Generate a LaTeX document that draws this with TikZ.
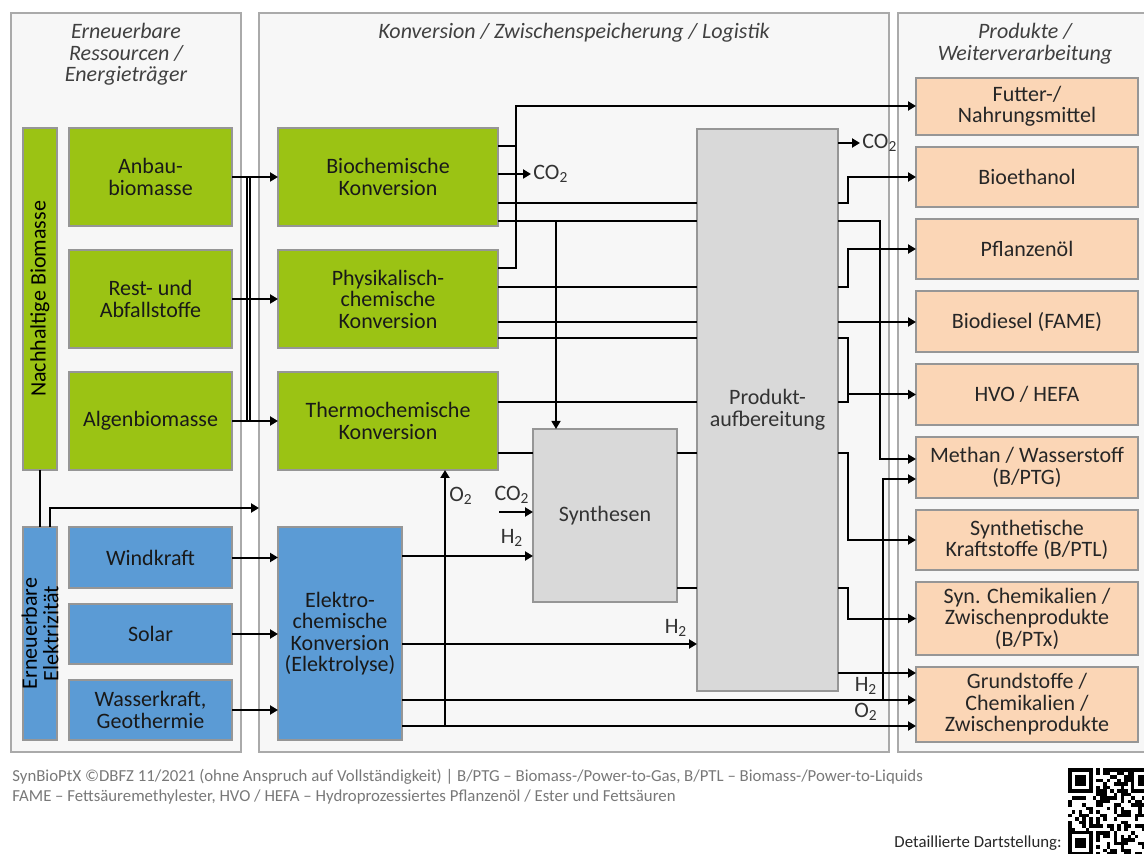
\documentclass[tikz,border=0pt]{standalone}
\usepackage{fontspec}
\setmainfont{Carlito}
\usetikzlibrary{
    arrows.meta,
    positioning
}
\definecolor{biogreen}{RGB}{155,195,20}
\definecolor{elblue}{RGB}{91,155,213}
\definecolor{prodpeach}{RGB}{251,214,182}
\definecolor{procgray}{RGB}{217,217,217}
\definecolor{panelfill}{RGB}{247,247,247}
\definecolor{paneldraw}{RGB}{170,170,170}
\definecolor{boxdraw}{RGB}{150,150,150}
\definecolor{notegray}{RGB}{120,120,120}

\begin{document}
\begin{tikzpicture}[
    x=0.5pt, y=-0.5pt,
    font=\fontsize{11}{10.75}\selectfont,
    panel/.style={rectangle, draw=paneldraw, fill=panelfill, line width=0.8pt, anchor=north west, inner sep=0pt, outer sep=0pt, minimum height=369.5pt},
    head/.style={font=\fontsize{11}{10.75}\selectfont\itshape, text=black!75, align=center, inner sep=0pt, anchor=north},
    box/.style={rectangle, draw=boxdraw, line width=0.7pt, align=center, inner sep=1pt, outer sep=0pt, text=black!90},
    biobox/.style={box, fill=biogreen, minimum width=81.5pt, minimum height=49pt},
    convbox/.style={box, fill=biogreen, minimum width=110pt, minimum height=49pt},
    elbox/.style={box, fill=elblue, minimum width=81.5pt, minimum height=30pt},
    barbox/.style={box, minimum width=17pt},
    procbox/.style={box, fill=procgray, text=black!80},
    prodbox/.style={box, fill=prodpeach, minimum width=111pt, text=black!85},
    gas/.style={inner sep=1pt, text=black!80},
    note/.style={inner sep=0pt, font=\fontsize{8.4}{10}\selectfont, text=notegray, anchor=west},
    arrow/.style={-{Triangle[length=4pt, width=4.5pt]}, line width=1pt},
    wire/.style={line width=1pt}
]
\useasboundingbox (0,0) rectangle (1144,854);

% Panels
\node[panel, minimum width=115pt] (pleft) at (11,13) {};
\node[panel, minimum width=315pt] (pmid) at (259,13) {};
\node[panel, minimum width=127pt] (pright) at (898,13) {};
\node[head, below=5pt of pleft.north] (hleft) {Erneuerbare\\Ressourcen /\\Energieträger};
\node[head, below=5pt of pmid.north] (hmid) {Konversion / Zwischenspeicherung / Logistik};
\node[head, below=5pt of pright.north] (hright) {Produkte /\\Weiterverarbeitung};

% Biomasse column
\node[barbox, fill=biogreen, minimum height=171pt, anchor=north west] (nb) at (23,128) {};
\node[rotate=90] (nbtext) at (nb) {Nachhaltige Biomasse};
\node[biobox, right=6pt of nb.north east, anchor=north west] (anbau) {Anbau-\\biomasse};
\node[biobox, below=12pt of anbau] (rest) {Rest- und\\Abfallstoffe};
\node[biobox, below=12pt of rest] (algen) {Algenbiomasse};

% Strom column
\node[barbox, fill=elblue, minimum height=106.5pt, anchor=north west] (elz) at (23,527) {};
\node[rotate=90, align=center] (elztext) at (elz) {Erneuerbare\\Elektrizität};
\node[elbox, minimum height=30.5pt, right=6pt of elz.north east, anchor=north west] (wind) {Windkraft};
\node[elbox, below=8pt of wind] (solar) {Solar};
\node[elbox, below=8pt of solar] (wasser) {Wasserkraft,\\Geothermie};

% Konversion
\node[convbox, right=23pt of anbau] (biochem) {Biochemische\\Konversion};
\node[convbox, below=12pt of biochem] (physchem) {Physikalisch-\\chemische\\Konversion};
\node[convbox, below=12pt of physchem] (thermo) {Thermochemische\\Konversion};
\node[box, fill=elblue, minimum width=62pt, minimum height=106.5pt, right=23pt of wind.north east, anchor=north west] (elektro) {Elektro-\\chemische\\Konversion\\(Elektrolyse)};
\node[procbox, minimum width=72pt, minimum height=86.5pt, anchor=north west] (synth) at (533,429) {Synthesen};
\node[procbox, minimum width=70.5pt, minimum height=281pt, anchor=north west] (aufb) at (697,129) {Produkt-\\aufbereitung};

% Produkte
\node[prodbox, minimum height=28.5pt, anchor=north west] (fut) at (916,78) {Futter-/\\Nahrungsmittel};
\node[prodbox, minimum height=30pt, below=6pt of fut] (ethanol) {Bioethanol};
\node[prodbox, minimum height=30pt, below=6pt of ethanol] (oel) {Pflanzenöl};
\node[prodbox, minimum height=30.5pt, below=6pt of oel] (diesel) {Biodiesel (FAME)};
\node[prodbox, minimum height=30.5pt, below=6pt of diesel] (hvo) {HVO / HEFA};
\node[prodbox, minimum height=30.5pt, below=6pt of hvo] (methan) {Methan / Wasserstoff\\(B/PTG)};
\node[prodbox, minimum height=30pt, below=6pt of methan] (synkr) {Synthetische\\Kraftstoffe (B/PTL)};
\node[prodbox, minimum height=36.5pt, below=6pt of synkr] (synchem) {Syn. Chemikalien /\\Zwischenprodukte\\(B/PTx)};
\node[prodbox, minimum height=37.5pt, below=6pt of synchem] (grund) {Grundstoffe /\\Chemikalien /\\Zwischenprodukte};

% Biomasse -> Konversion
\foreach \s/\c in {anbau/biochem, rest/physchem, algen/thermo}
    \draw[arrow] (\s) -- (\c);
\draw[wire] ([xshift=7.5pt]anbau.east) -- ([xshift=7.5pt]algen.east);
\draw[wire] ([xshift=9pt]anbau.east) -- ([xshift=9pt]algen.east);

% Strom
\draw[line width=0.6pt] (nb) -- (elz);
\draw[arrow] ([xshift=5pt]elz.north) |- (pmid.west |- 0,508);
\foreach \s in {wind, solar, wasser}
    \draw[arrow] (\s) -- (\s -| elektro.west);

% Biochemische / physikalisch-chemische Konversion
\coordinate (fj) at (516,106);
\draw[arrow] (biochem.east |- 0,146) -| (fj) -- (fut.west |- fj);
\draw[wire] (physchem.east |- 0,268) -| (fj);
\node[gas, anchor=west] (co2a) at (531,174) {CO\textsubscript{2}};
\draw[arrow] (biochem.east |- co2a) -- (co2a.west);
\foreach \y in {203,221}
    \draw[wire] (biochem.east |- 0,\y) -- (aufb.west |- 0,\y);
\foreach \y in {287,322,338}
    \draw[wire] (physchem.east |- 0,\y) -- (aufb.west |- 0,\y);
\draw[arrow, line width=0.7pt] (556,221) -- (synth.north -| 556,0);

% Thermochemische Konversion und Synthesen
\draw[wire] (thermo.east |- 0,402) -- (aufb.west |- 0,402);
\draw[wire] (thermo.east |- 0,453) -- (synth.west |- 0,453);
\foreach \y in {453,588}
    \draw[wire] (synth.east |- 0,\y) -- (aufb.west |- 0,\y);
\coordinate (co2in) at (499,512);
\node[gas] (co2b) at (512,495) {CO\textsubscript{2}};
\draw[arrow] (co2in) -- (synth.west |- co2in);

% Elektrolyse
\node[gas] (h2a) at (512,538) {H\textsubscript{2}};
\draw[arrow] (elektro.east |- 0,556) -- (synth.west |- 0,556);
\node[gas] (o2a) at (461,496) {O\textsubscript{2}};
\draw[arrow] (445,726) -- (thermo.south -| 445,0);
\node[gas] (h2b) at (676,628) {H\textsubscript{2}};
\draw[arrow] (elektro.east |- 0,644) -- (aufb.west |- 0,644);
\node[gas] (h2c) at (866,686) {H\textsubscript{2}};
\node[gas] (o2b) at (866,712) {O\textsubscript{2}};
\draw[arrow] (elektro.east |- 0,700) -- (grund.west |- 0,700);
\draw[arrow] (elektro.east |- 0,726) -- (grund.west |- 0,726);
\draw[arrow] (883,700) |- (methan.west |- 0,479);

% Produktaufbereitung -> Produkte
\node[gas, anchor=west] (co2c) at (860,143) {CO\textsubscript{2}};
\draw[arrow] (aufb.east |- co2c) -- (co2c.west);
\draw[arrow] (aufb.east |- 0,203) -- ++(10,0) |- (ethanol.west);
\draw[arrow] (aufb.east |- 0,221) -- ++(42,0) |- (methan.west |- 0,459);
\draw[arrow] (aufb.east |- 0,287) -- ++(10,0) |- (oel.west);
\draw[arrow] (aufb.east |- 0,322) -- (diesel.west |- 0,322);
\draw[wire] (aufb.east |- 0,338) -- ++(10,0) -- ++(0,64) -- (aufb.east |- 0,402);
\draw[arrow] (848,0 |- hvo.west) -- (hvo.west);
\draw[arrow] (aufb.east |- 0,453) -- ++(10,0) |- (synkr.west);
\draw[arrow] (aufb.east |- 0,588) -- ++(10,0) |- (synchem.west);
\draw[arrow] (aufb.east |- 0,673) -- (grund.west |- 0,673);

% Fussnote
\node[note] (foot1) at (12,777) {SynBioPtX ©DBFZ 11/2021 (ohne Anspruch auf Vollständigkeit) | B/PTG – Biomass-/Power-to-Gas, B/PTL – Biomass-/Power-to-Liquids};
\node[note] (foot2) at (12,797) {FAME – Fettsäuremethylester, HVO / HEFA – Hydroprozessiertes Pflanzenöl / Ester und Fettsäuren};
\node[note, anchor=east, text=black!85] (qrtext) at (1062,843) {Detaillierte Dartstellung:};

% QR-Code
\pgfmathsetseed{11}
\foreach \i in {0,...,24}
    \foreach \j in {0,...,24} {
        \pgfmathtruncatemacro\on{rnd>0.5}
        \ifnum\on=1 \fill (1068+3.5*\i,768+3.5*\j) rectangle ++(3.5,3.5); \fi
    }
\foreach \qx/\qy in {1068/768, 1130.5/768, 1068/830.5} {
    \fill[white] (\qx,\qy) rectangle ++(28,28);
    \fill (\qx,\qy) rectangle ++(24.5,24.5);
    \fill[white] (\qx+3.5,\qy+3.5) rectangle ++(17.5,17.5);
    \fill (\qx+7,\qy+7) rectangle ++(10.5,10.5);
}
\end{tikzpicture}
\end{document}
